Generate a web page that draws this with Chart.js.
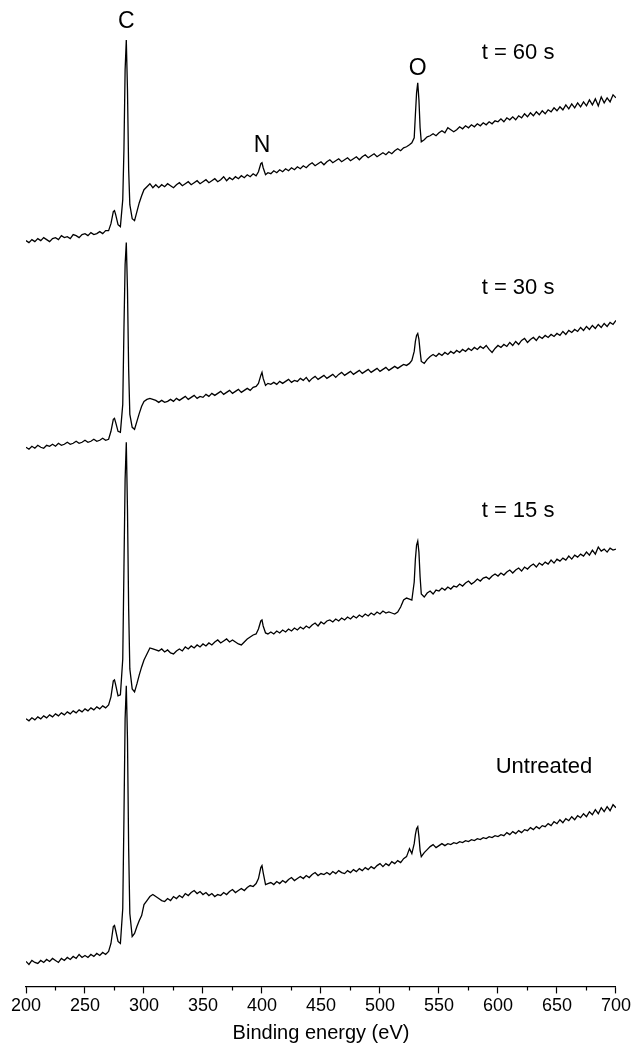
<!DOCTYPE html>
<html>
<head>
<meta charset="utf-8">
<script src="https://cdn.jsdelivr.net/npm/chart.js@4.4.1/dist/chart.umd.min.js"></script>
<style>
  html, body { margin: 0; padding: 0; background: #fff; }
  #wrap { width: 633px; height: 1046px; position: relative; }
</style>
</head>
<body>
<div id="wrap"><canvas id="xpsChart"></canvas></div>
<script>
// XPS survey spectra, stacked (intensity in arbitrary units, offset per trace)

const energy = [
    200, 202.5, 205, 207.5, 210, 212.5, 215, 217.5, 220, 222.5, 225, 227.5, 230, 232.5, 235, 237.5, 240, 242.5, 245, 247.5, 250, 252.5, 255, 257.5, 260, 262.5, 265, 267.5, 270,
    272, 274, 275, 276, 278, 280, 282, 283, 284, 285, 286, 287, 288, 290, 292, 294, 296, 298, 300, 302.5, 305, 307.5, 310,
    312.5, 315, 317.5, 320, 322.5, 325, 327.5, 330, 332.5, 335, 337.5, 340, 342.5, 345, 347.5, 350, 352.5, 355, 357.5, 360, 362.5, 365, 367.5, 370, 372.5, 375, 377.5, 380, 382.5, 385, 387.5, 390, 392.5,
    395, 397, 399, 400, 401, 403, 405,
    407.5, 410, 412.5, 415, 417.5, 420, 422.5, 425, 427.5, 430, 432.5, 435, 437.5, 440, 442.5, 445, 447.5, 450, 452.5, 455, 457.5, 460, 462.5, 465, 467.5, 470, 472.5, 475, 477.5, 480, 482.5, 485, 487.5, 490, 492.5, 495, 497.5, 500, 502.5, 505, 507.5, 510, 512.5, 515, 517.5, 520, 522.5,
    525, 527, 529, 530, 531, 532, 533, 534, 535, 537.5, 540,
    542.5, 545, 547.5, 550, 552.5, 555, 557.5, 560, 562.5, 565, 567.5, 570, 572.5, 575, 577.5, 580, 582.5, 585, 587.5, 590, 592.5, 595, 597.5, 600, 602.5, 605, 607.5, 610, 612.5, 615, 617.5, 620, 622.5, 625, 627.5, 630, 632.5, 635, 637.5, 640, 642.5, 645, 647.5, 650, 652.5, 655, 657.5, 660, 662.5, 665, 667.5, 670, 672.5, 675, 677.5, 680, 682.5, 685, 687.5, 690, 692.5, 695, 697.5, 700
];

const t60 = [
    747, 745, 748, 746, 749, 747, 750, 748, 746, 749, 750, 748, 752, 750, 751, 749, 753, 752, 750, 753, 754, 752, 755, 753, 754, 756, 754, 757, 757,
    764, 776, 777, 773, 763, 761, 788, 838, 918, 948, 898, 818, 783, 769, 767, 776, 785, 792, 798, 801, 804, 800, 803,
    800, 803, 801, 804, 802, 800, 803, 805, 802, 804, 806, 803, 805, 807, 804, 806, 808, 805, 807, 809, 806, 808, 811, 807, 810, 808, 811, 809, 812, 810, 813, 811, 814,
    812, 816, 824, 825, 820, 813, 815,
    814, 817, 815, 818, 816, 819, 817, 820, 818, 821, 819, 822, 820, 823, 825, 822, 824, 826, 823, 826, 828, 825, 827, 829, 826, 828, 830, 827, 829, 831, 828, 831, 833, 830, 832, 834, 831, 833, 835, 833, 836, 834, 837, 839, 837, 840, 841,
    843, 845, 850, 873, 895, 905, 888, 860, 846, 848, 851,
    852, 854, 852, 855, 857, 855, 860, 858, 856, 858, 861, 859, 862, 860, 863, 861, 864, 862, 865, 863, 866, 864, 867, 866, 869, 866, 870, 868, 871, 868, 872, 870, 874, 871, 875, 872, 876, 873, 877, 874, 878, 876, 880, 877, 881, 878, 883, 879, 884, 880, 885, 881, 886, 882, 888, 883, 889, 882, 891, 885, 890, 886, 893, 890
];

const t30 = [
    540, 538, 541, 539, 542, 540, 539, 542, 541, 543, 541, 544, 542, 543, 545, 543, 544, 546, 544, 545, 547, 545, 546, 548, 546, 547, 549, 547, 548,
    556, 568, 569, 565, 556, 555, 583, 658, 723, 745, 698, 618, 573, 560, 558, 566, 574, 581, 586, 588, 589, 588, 587,
    585, 587, 585, 586, 588, 586, 589, 587, 589, 591, 588, 590, 592, 589, 591, 590, 593, 591, 594, 592, 594, 596, 593, 595, 597, 594, 596, 598, 595, 597, 599, 597, 600,
    601, 604, 612, 615, 609, 602, 604,
    603, 605, 603, 606, 604, 606, 608, 605, 607, 606, 609, 607, 610, 606, 609, 611, 608, 610, 612, 609, 611, 613, 610, 613, 615, 612, 614, 616, 613, 615, 617, 614, 616, 618, 615, 617, 619, 616, 618, 620, 617, 619, 621, 619, 621, 623, 622,
    624, 627, 636, 646, 652, 654, 648, 636, 626, 624, 628,
    631, 633, 631, 634, 632, 635, 633, 636, 634, 637, 635, 638, 636, 639, 637, 640, 638, 641, 639, 642, 638, 635, 639, 642, 640, 643, 641, 645, 642, 646, 643, 647, 649, 645, 648, 650, 647, 651, 649, 652, 650, 653, 651, 654, 652, 656, 653, 657, 655, 658, 656, 660, 657, 661, 658, 662, 659, 663, 660, 664, 661, 665, 663, 667
];

const t15 = [
    268, 266, 269, 267, 270, 268, 271, 269, 272, 270, 273, 271, 274, 272, 275, 273, 276, 274, 277, 275, 278, 276, 279, 277, 280, 278, 281, 279, 282,
    290, 306, 307, 302, 291, 292, 328, 418, 508, 545, 478, 378, 318, 298, 295, 303, 312, 320, 327, 333, 339, 338, 337,
    336, 338, 335, 337, 334, 333, 336, 338, 336, 340, 338, 341, 339, 342, 340, 343, 341, 344, 342, 345, 347, 344, 346, 348, 345, 347, 345, 343, 342, 345, 348, 350, 352,
    353, 358, 366, 367, 361, 354, 353,
    355, 353, 356, 354, 357, 355, 358, 356, 359, 357, 360, 358, 361, 359, 362, 364, 361, 365, 363, 366, 367, 365, 368, 366, 369, 367, 370, 368, 371, 369, 372, 370, 373, 371, 374, 372, 375, 373, 376, 374, 375, 374, 373, 375, 380, 387, 389,
    388, 387, 405, 428, 442, 446, 435, 410, 393, 390, 394,
    396, 393, 397, 396, 399, 397, 400, 398, 401, 400, 403, 401, 404, 406, 403, 405, 408, 406, 409, 410, 408, 411, 413, 411, 414, 412, 415, 417, 414, 417, 419, 416, 420, 418, 421, 423, 420, 424, 422, 425, 423, 427, 424, 428, 426, 429, 427, 431, 428, 432, 430, 433, 431, 435, 432, 437, 433, 440, 436, 438, 435, 439, 437, 438
];

const untreated = [
    25, 22, 26, 24, 23, 26, 24, 27, 25, 28, 26, 24, 28, 26, 29, 27, 30, 28, 32, 29, 31, 29, 32, 30, 33, 31, 34, 32, 35,
    43, 60, 61, 56, 45, 43, 78, 168, 268, 301, 248, 138, 73, 50, 53, 60, 66, 71, 82, 86, 90, 92, 90,
    88, 86, 85, 88, 86, 90, 88, 91, 89, 93, 91, 94, 96, 93, 95, 92, 94, 91, 93, 90, 92, 91, 94, 92, 95, 97, 94, 96, 98, 96, 99, 101, 100,
    103, 108, 119, 121, 114, 102, 103,
    104, 102, 105, 103, 106, 104, 107, 109, 106, 108, 110, 108, 111, 109, 112, 114, 111, 113, 112, 114, 112, 115, 113, 116, 114, 113, 116, 114, 117, 115, 118, 116, 119, 117, 120, 118, 121, 123, 120, 123, 121, 125, 123, 126, 124, 128, 130,
    138, 133, 143, 152, 158, 160, 150, 136, 130, 134, 137,
    140, 142, 139, 141, 143, 141, 143, 142, 144, 143, 145, 144, 146, 145, 147, 146, 148, 147, 149, 148, 150, 149, 151, 150, 152, 151, 154, 152, 155, 153, 156, 154, 157, 156, 159, 157, 160, 158, 161, 160, 163, 161, 165, 163, 167, 164, 168, 166, 170, 167, 171, 169, 173, 170, 175, 172, 177, 173, 179, 175, 180, 176, 182, 179
];

const seriesNames = ['t = 60 s', 't = 30 s', 't = 15 s', 'Untreated'];
const seriesData = [t60, t30, t15, untreated];

const xTicks = [200, 250, 300, 350, 400, 450, 500, 550, 600, 650, 700];
const xMinorTicks = [225, 275, 325, 375, 425, 475, 525, 575, 625, 675];

// text labels placed in data coordinates (energy, intensity)
const peakLabels = [
    { text: 'C', e: 285, v: 966 },
    { text: 'N', e: 400, v: 842 },
    { text: 'O', e: 532, v: 919 }
];
const traceLabels = [
    { text: 't = 60 s', e: 617, v: 935 },
    { text: 't = 30 s', e: 617, v: 700 },
    { text: 't = 15 s', e: 617, v: 476 },
    { text: 'Untreated', e: 639, v: 220 }
];

const FONT = "'Liberation Sans', Arial, sans-serif";

const labelPlugin = {
    id: 'textLabels',
    afterDatasetsDraw(chart) {
        const { ctx, scales: { x, y } } = chart;
        ctx.save();
        ctx.fillStyle = '#000';
        ctx.textAlign = 'center';
        ctx.textBaseline = 'middle';
        ctx.font = '23px ' + FONT;
        peakLabels.forEach(l => ctx.fillText(l.text, x.getPixelForValue(l.e), y.getPixelForValue(l.v)));
        ctx.font = '22px ' + FONT;
        traceLabels.forEach(l => ctx.fillText(l.text, x.getPixelForValue(l.e), y.getPixelForValue(l.v)));
        // sanity check: every series must line up with the energy grid
        seriesData.forEach((s, i) => {
            if (s.length !== energy.length) {
                ctx.fillStyle = 'red';
                ctx.fillText(seriesNames[i] + ': ' + s.length + '/' + energy.length, 200, 300 + i * 30);
            }
        });
        ctx.restore();
    }
};

// Chart.js has no minor ticks, so draw them off the x scale
const minorTickPlugin = {
    id: 'minorTicks',
    afterDraw(chart) {
        const { ctx, scales: { x } } = chart;
        const base = x.top;
        ctx.save();
        ctx.strokeStyle = '#000';
        ctx.lineWidth = 1.2;
        ctx.beginPath();
        xMinorTicks.forEach(v => {
            const px = Math.round(x.getPixelForValue(v)) + 0.5;
            ctx.moveTo(px, base);
            ctx.lineTo(px, base + 4);
        });
        ctx.stroke();
        ctx.restore();
    }
};

const ctx = document.getElementById('xpsChart').getContext('2d');

new Chart(ctx, {
    type: 'line',
    data: {
        labels: energy,
        datasets: seriesData.map((vals, i) => ({
            label: seriesNames[i],
            data: vals.map((v, j) => ({ x: energy[j], y: v })),
            borderColor: '#000',
            borderWidth: 1.3,
            pointRadius: 0,
            tension: 0,
            fill: false
        }))
    },
    options: {
        responsive: true,
        maintainAspectRatio: false,
        animation: false,
        devicePixelRatio: 1,
        layout: { padding: { left: 26, right: 16, top: 0, bottom: 1 } },
        plugins: {
            legend: { display: false },
            tooltip: { enabled: false }
        },
        scales: {
            x: {
                type: 'linear',
                min: 200,
                max: 700,
                afterBuildTicks: axis => { axis.ticks = xTicks.map(v => ({ value: v })); },
                ticks: { color: '#000', padding: 2, font: { family: FONT, size: 18 } },
                grid: { drawOnChartArea: false, drawTicks: true, tickLength: 7, tickColor: '#000', tickWidth: 1.2 },
                border: { display: true, color: '#000', width: 1.2 },
                title: {
                    display: true,
                    text: 'Binding energy (eV)',
                    color: '#000',
                    font: { family: FONT, size: 20 },
                    padding: { top: 2, bottom: 0 }
                }
            },
            y: { display: false, min: 0, max: 988 }
        }
    },
    plugins: [labelPlugin, minorTickPlugin]
});
</script>
</body>
</html>
